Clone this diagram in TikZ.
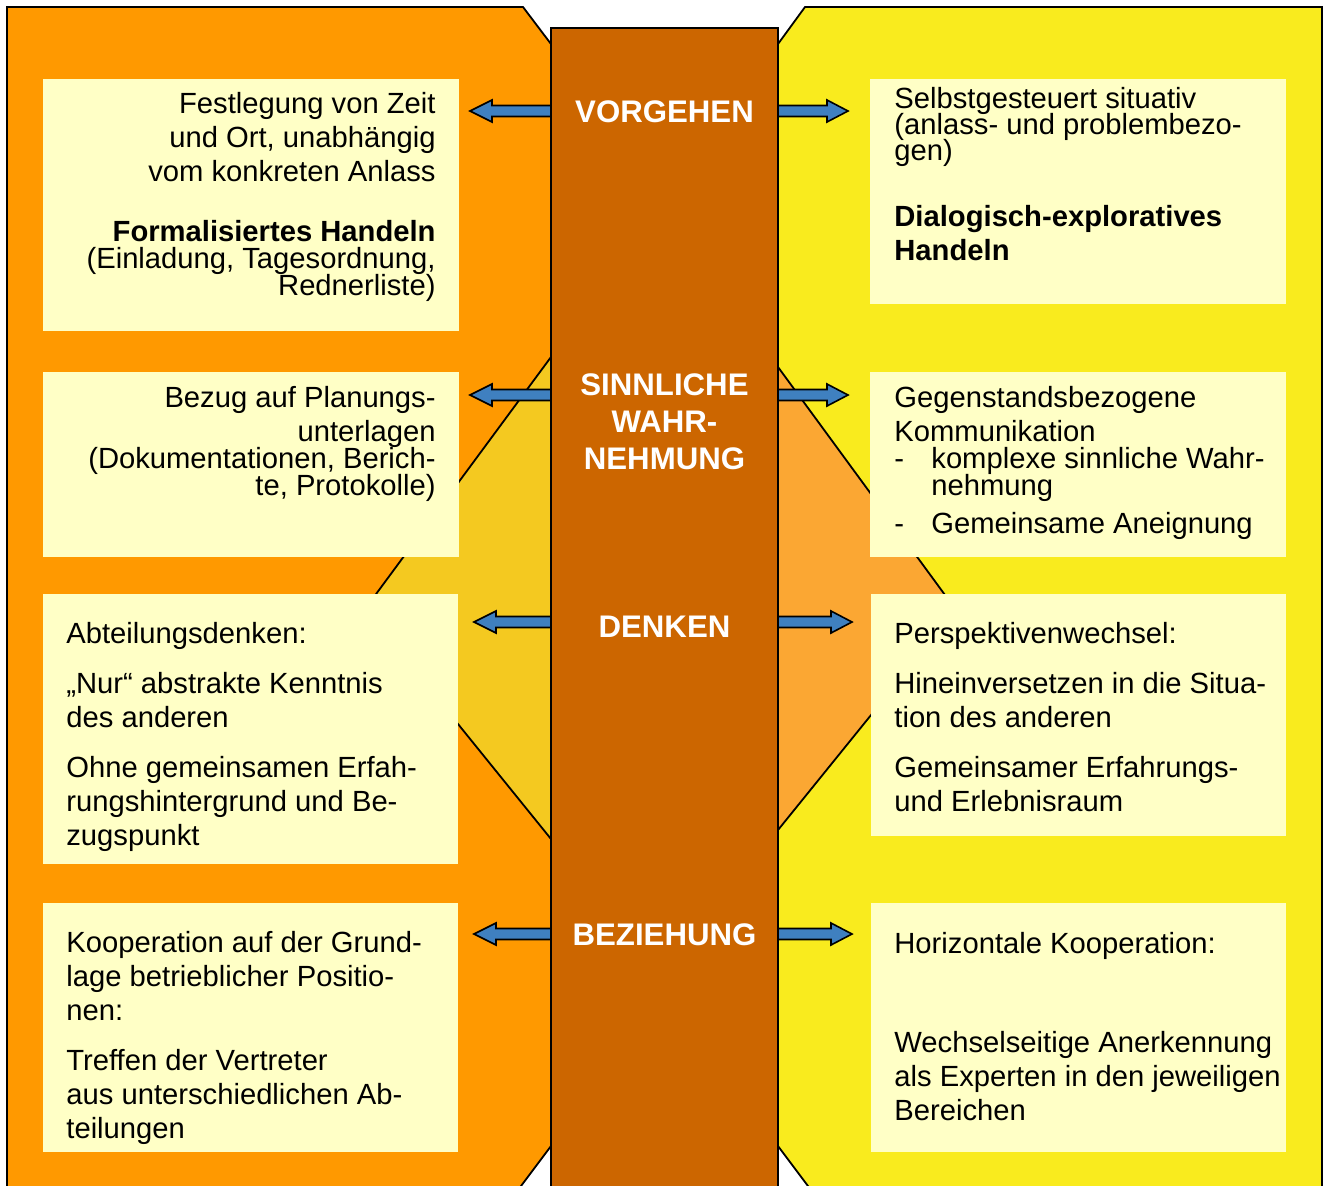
\documentclass[tikz,border=0pt]{standalone}
\usepackage{fontspec}
\setmainfont{Liberation Sans}
\usepackage{xcolor}
\usetikzlibrary{positioning}
\definecolor{leftorange}{HTML}{FF9900}
\definecolor{rightyellow}{HTML}{F9EB1E}
\definecolor{stembrown}{HTML}{CC6600}
\definecolor{hexleft}{HTML}{F4C920}
\definecolor{hexright}{HTML}{FBA733}
\definecolor{boxyellow}{HTML}{FFFFC6}
\definecolor{arrowblue}{HTML}{3F80C0}

\begin{document}
\begin{tikzpicture}[x=0.5pt, y=-0.5pt,
                    panel/.style={draw=black, line width=0.9pt},
                    infobox/.style={fill=boxyellow},
                    boxtext/.style={font=\fontsize{14.6pt}{17pt}\selectfont, inner sep=0pt},
                    stemtext/.style={font=\fontsize{15.6pt}{18.5pt}\selectfont\bfseries, text=white, align=center, inner sep=0pt},
                    blockarrow/.style={fill=arrowblue, draw=black, line width=0.8pt},
                   ]

\useasboundingbox (0,0) rectangle (1324,1185);
\clip (0,0) rectangle (1324,1185);

% side panels
\draw[panel, fill=leftorange] (7,7) -- (523,7) -- (551,44) -- (551,1146) -- (518,1190) -- (7,1190) -- cycle;
\draw[panel, fill=rightyellow] (805,7) -- (1322,7) -- (1322,1190) -- (811,1190) -- (778,1146) -- (778,44) -- cycle;

% hexagon behind the stem
\draw[panel, fill=hexleft] (551,357) -- (365,609) -- (551,839) -- cycle;
\draw[panel, fill=hexright] (778,367) -- (956,610) -- (778,830) -- cycle;

% boxes
\fill[infobox] (43,79) rectangle (459,331);
\fill[infobox] (43,372) rectangle (459,557);
\fill[infobox] (43,594) rectangle (458,864);
\fill[infobox] (43,903) rectangle (458,1152);
\fill[infobox] (870,79) rectangle (1286,304);
\fill[infobox] (870,372) rectangle (1286,557);
\fill[infobox] (871,594) rectangle (1286,836);
\fill[infobox] (871,903) rectangle (1286,1152);

% stem
\draw[panel, fill=stembrown] (551,28) rectangle (778,1190);

% arrows
\foreach \y/\tl/\tr in {111/470/848, 395/470/848, 622/474/852, 934/474/852}{
  \draw[blockarrow] (551,\y-5.5) -- (\tl+22,\y-5.5) -- (\tl+22,\y-11) -- (\tl,\y)
        -- (\tl+22,\y+11) -- (\tl+22,\y+5.5) -- (551,\y+5.5) -- cycle;
  \draw[blockarrow] (778,\y-5.5) -- (\tr-21,\y-5.5) -- (\tr-21,\y-11) -- (\tr,\y)
        -- (\tr-21,\y+11) -- (\tr-21,\y+5.5) -- (778,\y+5.5) -- cycle;
}

% stem labels (base = last line)
\node[stemtext, anchor=base] (vorgehen) at (664.5,122) {VORGEHEN};
\node[stemtext, anchor=base] (wahrnehmung) at (664.5,469) {SINNLICHE\\WAHR-\\NEHMUNG};
\node[stemtext, anchor=base] (denken) at (664.5,637) {DENKEN};
\node[stemtext, anchor=base] (beziehung) at (664.5,945) {BEZIEHUNG};

% left texts
\node[boxtext, anchor=base east, align=right] (links1) at (436,295)
  {Festlegung von Zeit\\und Ort, unabhängig\\vom konkreten Anlass\\[13pt]
   \textbf{Formalisiertes Handeln}\\[-3.5pt](Einladung, Tagesordnung,\\[-3.5pt]Rednerliste)};
\node[boxtext, anchor=base east, align=right] (links2) at (436,495)
  {Bezug auf Planungs-\\unterlagen\\[-3.5pt](Dokumentationen, Berich-\\[-3.5pt]te, Protokolle)};
\node[boxtext, anchor=base west, align=left] (links3) at (66,845)
  {Abteilungsdenken:\\[8pt]„Nur“ abstrakte Kenntnis\\des anderen\\[8pt]
   Ohne gemeinsamen Erfah-\\rungshintergrund und Be-\\zugspunkt};
\node[boxtext, anchor=base west, align=left] (links4) at (66,1138)
  {Kooperation auf der Grund-\\lage betrieblicher Positio-\\nen:\\[8pt]
   Treffen der Vertreter\\aus unterschiedlichen Ab-\\teilungen};

% right texts
\node[boxtext, anchor=base west, align=left] (rechts1) at (894,260)
  {Selbstgesteuert situativ\\[-4pt](anlass- und problembezo-\\[-4pt]gen)\\[16pt]
   \textbf{Dialogisch-exploratives}\\\textbf{Handeln}};
\node[boxtext, anchor=base west, align=left] (rechts2) at (894,533)
  {Gegenstandsbezogene\\Kommunikation\\[-3.5pt]
   \makebox[18.5pt][l]{-}komplexe sinnliche Wahr-\\[-3.5pt]
   \hspace*{18.5pt}nehmung\\[2pt]
   \makebox[18.5pt][l]{-}Gemeinsame Aneignung};
\node[boxtext, anchor=base west, align=left] (rechts3) at (894,811)
  {Perspektivenwechsel:\\[8pt]Hineinversetzen in die Situa-\\tion des anderen\\[8pt]
   Gemeinsamer Erfahrungs-\\und Erlebnisraum};
\node[boxtext, anchor=base west, align=left] (rechts4) at (894,1120)
  {Horizontale Kooperation:\\[32.5pt]Wechselseitige Anerkennung\\als Experten in den jeweiligen\\Bereichen};

\end{tikzpicture}
\end{document}
